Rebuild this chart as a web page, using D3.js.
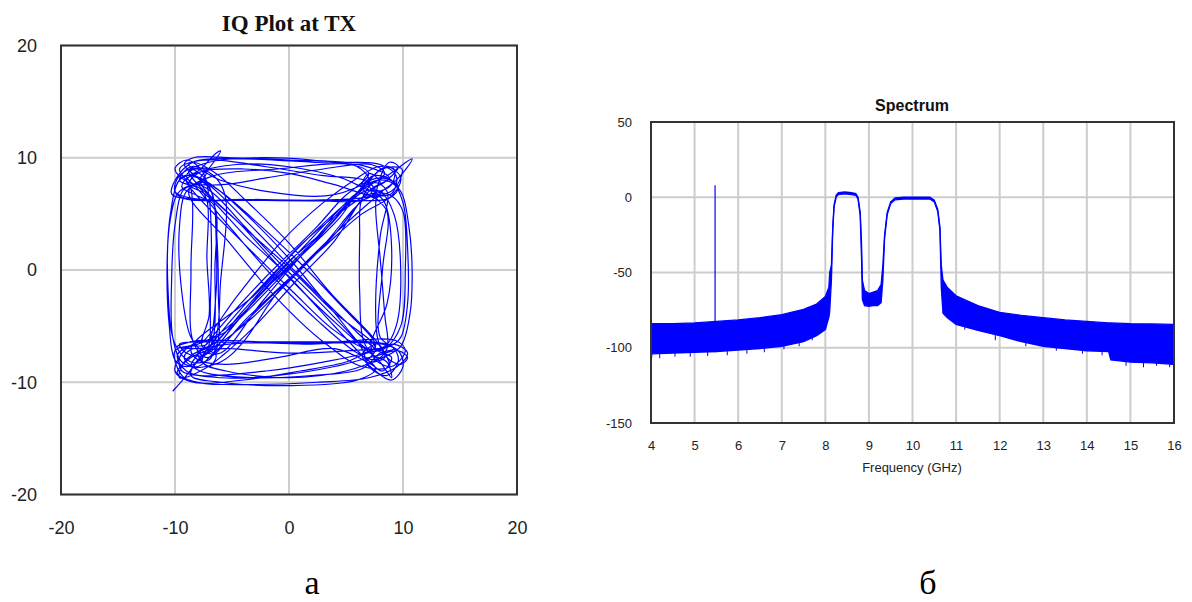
<!DOCTYPE html>
<html><head><meta charset="utf-8">
<script src="https://cdn.jsdelivr.net/npm/d3@7"></script>
<style>body{margin:0;background:#fff} svg{display:block}</style>
</head><body>
<svg id="c" width="1192" height="602"></svg>
<script>
// ---------- IQ plot data (waypoints) ----------
const iqTicks = [-20, -10, 0, 10, 20];
const iqI = [-10.2,-9.0,-7.6,-4.5,-0.5,3.5,6.8,8.6,10.8,9.4,7.2,3.0,-3.0,-8.5,-10.3,-9.6,-8.2,-4,2,6.5,
 8.8,7.2,4.2,0.4,-3.6,-6.8,-8.6,-9.8,-8.0,-3.0,2.5,7.0,9.5,10.4,9.2,7.2,3.8,0.2,-3.4,-6.8,
 -8.6,-9.4,-8.0,-6.6,-6.5,-6.6,-7.2,-9.0,-10.0,-10.5,-10.7,-10.4,-9.6,-8.0,-6.4,-6.0,-6.9,-7.8,-4.0,0.5,
 4.4,7.4,8.6,9.0,8.0,6.6,6.2,6.2,6.3,7.0,8.4,7.2,3.0,-2.0,-6.0,-8.8,-10.0,-9.0,-7.6,-7.0,
 -6.8,-6.9,-7.0,-7.6,-5.5,0,5.0,8.2,9.8,10.6,10.8,10.5,9.8,8.4,6.8,3.6,-0.4,-4.0,-7.0,-9.8,
 -8.0,-2.0,4.0,9.4,10.2,9.0,7.6,7.2,8.6,9.0,8.4,7.0,8.2,9.9,9.2,7.6,4.0,0,-4,-7.6,
 -9.0,-8.4,-4.2,0.2,4.0,6.8,8.4,9.4,9.8,9.2,8.0,6.6,2.6,-1.2,-4.8,-7.0,-8.4,-9.6,-9.4,-7.8,
 -2,3,6.6,7.6,4.4,0.8,-3.0,-6.0,-7.6,-9.0,-9.6,-9.4,-8.6,-7.6,-6.0,-2.5,1.5,5.0,7.4,8.6,
 8.0,7.6,7.8,8.6,9.8,10.4,9.6,7.8,4.0,-1,-6.0,-9.0,-9.8,-8.8,-7.2,-6.4,-6.4,-6.6,-7.4,-8.8,
 -7.0,-2.0,3.0,6.6,7.6,6.4,2.0,-4.0,-9.0,-10.0,-9.2,-7.6,-3.4,0.8,4.8,7.8,9.0,8.2,7.2,4.0,
 -1.0,-5.6,-8.0,-8.6,-3.0,1.0,4.6,7.2,9.0,10.0,10.2,9.8,8.4,6.8,
 5.0,1.0,-4.0,-8.4,-10.0,-9.0,-7.6,-4.6,-0.6,3.0,
 6.0,7.8,9.2,9.0,7.6,4.6,0.0,-4.6,-8.0,-8.8,
 -7.4,-3.8,0.0,3.8,6.4,7.6,6.0,0.0,-6.0,-8.6,
 -8.0,-6.4,-6.2,-6.4,-6.8,-8.0,-9.2,-8.4,-5.0,0.0,
 5.0,8.0,9.4,9.0,6.8,3.0,-1.0,-4.4,-6.8,-8.0,
 -9.4,-10.2,-10.3,-10.0,-9.2,-8.0,-7.2,-7.2,-7.0,-7.6,
 -5.0,0,5.0,8.8,9.8,10.4,10.4,10.0,9.0,7.4,
 6.4,3.2,-2.0,-6.0,-8.2,-9.0,-8.0,-5.0,-1.4,2.6,
 6.0,7.6,8.6,8.4,8.0,7.6,7.8,8.8,9.6,8.6,
 6.8,4.0,0.6,-3.0,-5.8,-7.4,-9.6,-9.2,-7.4,-4.0,
 2.0,7.0,9.0,9.6,8.6,7.0,6.4,3.0,-0.6,-4.0,
 -6.6,-8.0,-9.6,-10.4,-10.6,-10.0,-8.6,-7.0,-6.4,-2.4,
 1.6,5.4,7.0,6.0,2.0,-3.0,-7.0,-9.6,-10.0,-8.6,
 -2.0,5.0,8.8,9.6,8.2,6.8,4.4,0.6,-3.2,-6.2,
 -7.4,-9.0,-9.6,-8.2,-3.0,3.0,8.2,9.6,10.0,9.0,
 7.6,
 6.4,7.8,8.4,6.8,7.6,4.0,0.0,-4.6,-7.6,-8.8,-7.2,-8.0,-9.6,-8.6,-6.6,-5.6,-6.0,-6.6,-8.0,-7.0,
 -6.4,-8.4,-9.2,-7.8,-3.0,2.0,6.4,8.0,9.2,8.0,8.2,8.6,7.2,8.0,7.0,6.4,7.6,8.2,
 4.0,-1.0,-4.0,-6.0,-8.6,-7.4,-2.4,2.4,4.6,7.0,5.4,-1.0,-6.6,-8.8,-5.2,-1.0,3.0,6.4,8.8,8.0,
 3.6,0,-3.8,-6.4,-8.4,-9.6,-8.6,-8.6,-8.4,-7.2,-3.6,3.0,6.4,9.0,9.8,8.6,7.0,2.0,-2.6,-5.4,
 -8.0,-10.0,-9.2,-6.0];
const iqQ = [-10.8,-9.4,-7.6,-3.8,0.6,4.6,7.4,8.4,9.9,8.0,6.6,6.25,6.2,6.3,6.8,8.6,9.7,9.9,9.6,9.3,
 8.2,7.2,3.4,-0.6,-4.6,-7.0,-7.8,-9.2,-10.0,-10.2,-10.0,-9.6,-8.6,-7.4,-6.6,-7.2,-3.6,0.8,4.6,7.6,
 8.4,7.4,6.6,5.8,0,-5.8,-7.4,-8.6,-8.0,-5,0,5,8.0,8.8,10.4,10.6,9.2,8.0,3.8,-1.2,
 -5.0,-7.6,-8.2,-9.6,-8.2,-6.5,-2,3,6.0,7.4,8.6,9.4,9.0,8.2,7.6,7.8,9.0,9.8,8.8,6.4,
 2,-3,-6.6,-8.2,-9.0,-9.6,-9.0,-7.8,-6.8,-4,0,4,7.0,8.0,7.6,4.0,0.4,-3.6,-6.8,-6.8,
 -6.3,-6.4,-6.4,-6.3,-7.2,-8.6,-8.0,-6.6,-3.0,2.0,6.0,7.6,9.0,9.0,7.2,6.6,7.6,8.6,9.0,8.8,
 8.0,7.0,2.6,-1.8,-5.4,-7.0,-6.8,-5,0,5,7.0,7.0,3.0,-0.8,-4.6,-6.2,-6.6,-7.8,-9.0,-9.4,
 -9.0,-8.2,-7.4,-6.8,-3.0,0.8,4.4,7.0,7.8,7.0,4,-2,-6,-7.2,-7.4,-3.0,1.8,5.8,7.8,7.0,
 3.0,-3.0,-6.2,-7.8,-8.4,-7.8,-7.2,-7.6,-8.6,-9.4,-9.6,-9.0,-7.6,-6.8,-6.6,-2,3,6.2,8.2,9.4,
 9.8,9.2,8.4,8.0,7.0,6.2,6.2,6.3,6.3,7.0,8.4,8.0,4.0,-0.4,-4.4,-7.2,-7.8,-9.0,-8.4,-7.0,
 -7.8,-8.4,-8.0,-7.0,-2.2,2.2,5.2,6.8,6.6,5.2,0,-5.0,-7.0,-7.4,
 -8.2,-9.0,-9.8,-10.0,-9.0,-7.0,-6.4,-2.4,2.6,6.0,
 8.2,9.2,9.0,7.6,7.0,8.2,9.2,9.4,8.6,7.6,
 6.8,3.0,-0.6,-4.8,-7.6,-8.8,-9.8,-10.3,-10.0,-9.4,
 -8.0,-6.8,-2.0,4.0,7.0,8.2,9.4,10.0,10.0,9.8,
 9.6,9.4,8.4,6.8,6.4,2.2,-1.8,-5.2,-7.6,-8.6,
 -8.2,-6.0,-1,4,7.2,7.4,6.2,1,-4,-6.8,
 -7.0,-7.4,-7.2,-6.8,-6.0,-3,2,6.0,8.0,8.4,
 7.6,6.6,7.0,8.0,9.0,8.4,7.2,3.6,-0.6,-4.6,
 -7.4,-8.0,-7.0,-4,1,5.6,7.6,9.6,9.2,8.0,
 6.8,2.6,-1.0,-5.0,-7.6,-8.8,-9.6,-8.2,-7.0,-6.5,
 -6.6,-6.4,-6.8,-8.0,-9.4,-8.6,-7.0,-3.2,0.4,4.0,
 6.8,7.6,7.0,4.6,-2,-6.6,-8.2,-8.0,-7.0,-2.0,
 2.4,6.4,8.0,9.2,9.8,10.0,9.6,8.4,7.0,6.4,
 6.2,6.2,6.4,7.4,8.2,7.8,4.6,0.8,-3.2,-6.2,
 -7.6,-7.4,-6.6,-6.4,-6.5,-6.5,-6.6,-7.2,-8.6,-9.8,
 -9.0,
 -7.6,-6.6,-7.8,-8.2,-7.0,-3.8,0.2,4.4,7.2,8.8,9.0,7.6,8.0,9.2,8.4,6.6,-1,-6.4,-7.4,-8.6,
 -7.6,-7.0,-7.8,-9.0,-9.6,-9.4,-8.8,-7.4,-7.0,-6.0,0.0,5.2,7.0,7.8,8.6,7.4,6.4,7.0,
 3.2,-2.0,-6.4,-8.2,-8.6,-6.8,-1.0,3.8,6.3,8.6,9.4,9.0,8.4,7.0,2.4,-2.6,-6.4,-8.6,-8.6,-6.8,
 -2.0,2.4,6.2,8.6,9.6,9.0,7.2,0,-6.4,-7.8,-4.2,2.0,5.0,6.6,8.2,9.2,8.0,2.2,-2.2,-5.4,
 -6.6,-7.2,-9.6,-10.2];

// ---------- Spectrum data ----------
const freqTicks = [4,5,6,7,8,9,10,11,12,13,14,15,16];
const dbTicks = [-150,-100,-50,0,50];
const specFreq  = [4.0,4.02,4.5,5.0,5.5,6.0,6.5,7.0,7.5,7.8,8.0,8.08,8.10,8.14,8.17,8.2,8.25,8.3,8.45,8.6,
  8.7,8.75,8.8,8.83,8.85,8.9,9.0,9.1,9.2,9.28,9.32,9.36,9.42,9.5,9.6,9.8,10.4,10.5,10.58,10.63,
  10.66,10.7,10.8,11.0,11.5,12.0,12.5,13.0,13.5,14.0,14.5,14.55,15.0,15.5,15.98,16.0];
const specUpper = [-84,-84,-84,-83.5,-82.5,-81.5,-80,-78,-74.5,-71,-66,-60,-50,-45,-20,-5,1.5,3,3.5,3,
  2.5,0,-10,-30,-55,-62,-64,-63,-62,-58,-45,-25,-10,-3,-0.5,0,0,-2,-8,-20,
  -45,-55,-60,-65.5,-72,-76.5,-78.5,-80,-81.5,-82.5,-83.5,-83.5,-84,-84.2,-84.5,-89];
const specLower = [-110,-104,-103.5,-103,-102.5,-101.5,-100.5,-99,-96,-92,-88,-80,-76,-55,-22,-6.5,0.3,1.8,2.3,1.8,
  1.3,-1.2,-12,-40,-68,-72,-72.5,-72,-72,-70,-55,-27,-11.5,-4.2,-1.7,-1.2,-1.2,-3.2,-9.5,-22,
  -60,-77,-80,-84.5,-88.5,-92,-96,-99,-100.5,-102,-102.5,-108,-109.5,-110,-111,-111];
const toneFreq = [5.47];
const toneTop = [8];
const toneBottom = [-103];
const grassFreq  = [4.2,4.55,4.9,5.3,5.75,6.2,6.6,7.05,7.4,7.7,11.2,11.9,12.6,13.3,13.9,14.35,14.9,15.3,15.6,15.9];
const grassLevel = [-107,-106,-106,-105.5,-105,-104,-103,-101,-99,-95,-88,-95,-99,-102,-104,-105,-112,-113,-112,-113];

const svg = d3.select('#c');
const GRID = '#cdcdcd', BORDER = '#333';
const fmt = d => String(d);

// ================= Left: IQ plot =================
const xI = d3.scaleLinear([-20, 20], [61, 517]);
const yQ = d3.scaleLinear([-20, 20], [494.5, 45.5]);
const gL = svg.append('g');
gL.selectAll('line.gx').data(iqTicks).join('line').attr('class','gx')
  .attr('x1', d => xI(d)).attr('x2', d => xI(d)).attr('y1', yQ(20)).attr('y2', yQ(-20))
  .attr('stroke', GRID).attr('stroke-width', 2);
gL.selectAll('line.gy').data(iqTicks).join('line').attr('class','gy')
  .attr('y1', d => yQ(d)).attr('y2', d => yQ(d)).attr('x1', xI(-20)).attr('x2', xI(20))
  .attr('stroke', GRID).attr('stroke-width', 2);
const iqPts = iqI.map((v, i) => [v, iqQ[i]]);
gL.append('path').datum(iqPts)
  .attr('d', d3.line().x(d => xI(d[0])).y(d => yQ(d[1])).curve(d3.curveCatmullRom.alpha(0.5)))
  .attr('fill', 'none').attr('stroke', '#0000ff').attr('stroke-width', 1.2);
gL.append('rect').attr('x', xI(-20)).attr('y', yQ(20)).attr('width', xI(20) - xI(-20)).attr('height', yQ(-20) - yQ(20))
  .attr('fill', 'none').attr('stroke', BORDER).attr('stroke-width', 2);
const axL = gL.append('g').attr('transform', `translate(${xI(-20)},0)`)
  .call(d3.axisLeft(yQ).tickValues(iqTicks).tickSize(0).tickPadding(24).tickFormat(fmt));
const axB = gL.append('g').attr('transform', `translate(0,${yQ(-20)})`)
  .call(d3.axisBottom(xI).tickValues(iqTicks).tickSize(0).tickPadding(27).tickFormat(fmt));
[axL, axB].forEach(a => { a.select('.domain').remove();
  a.selectAll('text').attr('font-family', 'Liberation Sans, Arial, sans-serif').attr('font-size', 18).attr('fill', '#222'); });
gL.append('text').attr('x', 289).attr('y', 31).attr('text-anchor', 'middle')
  .attr('font-family', 'Liberation Serif, Times New Roman, serif').attr('font-weight', 'bold').attr('font-size', 23)
  .attr('fill', '#111').text('IQ Plot at TX');
svg.append('text').attr('x', 312).attr('y', 594).attr('text-anchor', 'middle')
  .attr('font-family', 'Liberation Serif, Times New Roman, serif').attr('font-size', 34).attr('fill', '#000').text('а');

// ================= Right: Spectrum =================
const xF = d3.scaleLinear([4, 16], [651, 1174]);
const yD = d3.scaleLinear([-150, 50], [423, 122]);
const gR = svg.append('g');
gR.selectAll('line.fx').data(freqTicks).join('line').attr('class','fx')
  .attr('x1', d => xF(d)).attr('x2', d => xF(d)).attr('y1', yD(50)).attr('y2', yD(-150))
  .attr('stroke', GRID).attr('stroke-width', 2);
gR.selectAll('line.fy').data(dbTicks).join('line').attr('class','fy')
  .attr('y1', d => yD(d)).attr('y2', d => yD(d)).attr('x1', xF(4)).attr('x2', xF(16))
  .attr('stroke', GRID).attr('stroke-width', 2);
svg.append('clipPath').attr('id', 'clipR').append('rect')
  .attr('x', xF(4)).attr('y', yD(50)).attr('width', xF(16) - xF(4)).attr('height', yD(-150) - yD(50));
const gS = gR.append('g').attr('clip-path', 'url(#clipR)');
const spec = specFreq.map((f, i) => ({ f, u: specUpper[i], l: specLower[i] }));
gS.append('path').datum(spec)
  .attr('d', d3.area().x(d => xF(d.f)).y0(d => yD(d.l)).y1(d => yD(d.u)))
  .attr('fill', '#0000ff');
['u', 'l'].forEach(k => gS.append('path').datum(spec)
  .attr('d', d3.line().x(d => xF(d.f)).y(d => yD(d[k])))
  .attr('fill', 'none').attr('stroke', '#0000ff').attr('stroke-width', 1.3));
gS.selectAll('line.grass').data(grassFreq).join('line').attr('class','grass')
  .attr('x1', d => xF(d)).attr('x2', d => xF(d))
  .attr('y1', (d, i) => yD(grassLevel[i])).attr('y2', (d, i) => yD(grassLevel[i] + 8))
  .attr('stroke', '#0000ff').attr('stroke-width', 1);
gS.selectAll('line.tone').data(toneFreq).join('line').attr('class','tone')
  .attr('x1', d => xF(d)).attr('x2', d => xF(d))
  .attr('y1', (d, i) => yD(toneBottom[i])).attr('y2', (d, i) => yD(toneTop[i]))
  .attr('stroke', '#0000ff').attr('stroke-width', 1.2);
gR.append('rect').attr('x', xF(4)).attr('y', yD(50)).attr('width', xF(16) - xF(4)).attr('height', yD(-150) - yD(50))
  .attr('fill', 'none').attr('stroke', BORDER).attr('stroke-width', 2);
const axRL = gR.append('g').attr('transform', `translate(${xF(4)},0)`)
  .call(d3.axisLeft(yD).tickValues(dbTicks).tickSize(0).tickPadding(19).tickFormat(fmt));
const axRB = gR.append('g').attr('transform', `translate(0,${yD(-150)})`)
  .call(d3.axisBottom(xF).tickValues(freqTicks).tickSize(0).tickPadding(18).tickFormat(fmt));
[axRL, axRB].forEach(a => { a.select('.domain').remove();
  a.selectAll('text').attr('font-family', 'Liberation Sans, Arial, sans-serif').attr('font-size', 13).attr('fill', '#222'); });
gR.append('text').attr('x', 912).attr('y', 472).attr('text-anchor', 'middle')
  .attr('font-family', 'Liberation Sans, Arial, sans-serif').attr('font-size', 13).attr('fill', '#222')
  .text('Frequency (GHz)');
gR.append('text').attr('x', 912).attr('y', 111).attr('text-anchor', 'middle')
  .attr('font-family', 'Liberation Sans, Arial, sans-serif').attr('font-weight', 'bold').attr('font-size', 16)
  .attr('fill', '#111').text('Spectrum');
svg.append('text').attr('x', 928).attr('y', 594).attr('text-anchor', 'middle')
  .attr('font-family', 'Liberation Serif, Times New Roman, serif').attr('font-size', 34).attr('fill', '#000').text('б');
</script>
</body></html>
